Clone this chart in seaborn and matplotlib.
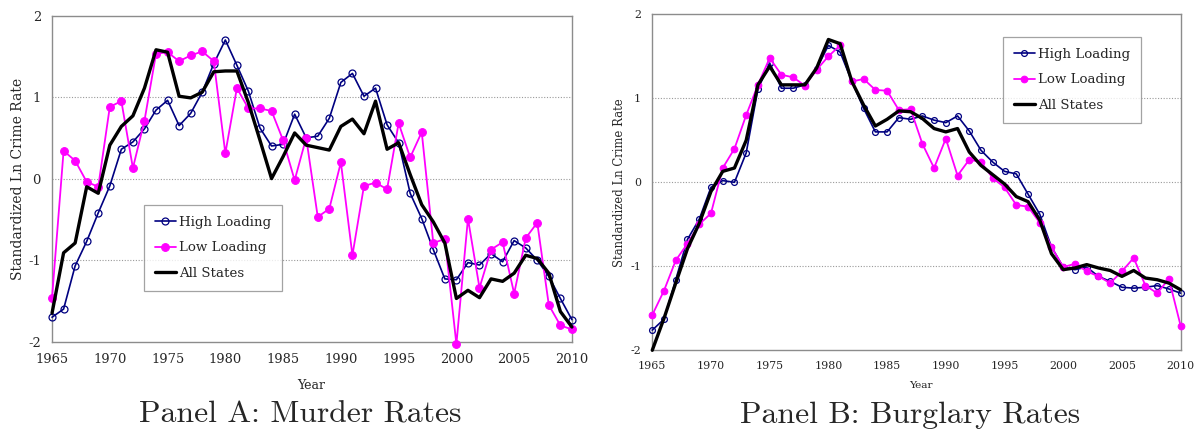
import numpy as np
import pandas as pd
import matplotlib
matplotlib.use("Agg")
import matplotlib.pyplot as plt
import seaborn as sns

years = list(range(1965, 2011))

# Panel A: murder rates
murder_high = [-1.70, -1.60, -1.07, -0.77, -0.42, -0.09, 0.36, 0.45, 0.61, 0.84,
               0.96, 0.65, 0.80, 1.06, 1.41, 1.70, 1.39, 1.07, 0.62, 0.40,
               0.42, 0.79, 0.50, 0.52, 0.74, 1.18, 1.29, 1.01, 1.11, 0.66,
               0.44, -0.18, -0.49, -0.87, -1.23, -1.24, -1.03, -1.06, -0.92, -1.02,
               -0.76, -0.85, -1.00, -1.20, -1.47, -1.73]
murder_low = [-1.46, 0.34, 0.22, -0.04, -0.10, 0.88, 0.95, 0.13, 0.71, 1.53,
              1.55, 1.44, 1.51, 1.56, 1.44, 0.31, 1.11, 0.86, 0.86, 0.83,
              0.47, -0.02, 0.50, -0.47, -0.37, 0.20, -0.94, -0.09, -0.05, -0.13,
              0.68, 0.26, 0.57, -0.79, -0.74, -2.03, -0.49, -1.34, -0.87, -0.78,
              -1.41, -0.73, -0.54, -1.55, -1.80, -1.85]
murder_all = [-1.65, -0.91, -0.79, -0.10, -0.18, 0.41, 0.64, 0.77, 1.11, 1.58,
              1.55, 1.01, 0.99, 1.06, 1.31, 1.32, 1.32, 0.93, 0.47, 0.00,
              0.27, 0.56, 0.41, 0.38, 0.35, 0.64, 0.73, 0.55, 0.95, 0.36,
              0.44, 0.05, -0.32, -0.53, -0.79, -1.47, -1.37, -1.46, -1.23, -1.26,
              -1.16, -0.94, -0.98, -1.16, -1.63, -1.82]

# Panel B: burglary rates
burglary_high = [-1.76, -1.63, -1.16, -0.68, -0.44, -0.06, 0.02, 0.00, 0.35, 1.11,
                 1.42, 1.12, 1.12, 1.16, 1.35, 1.63, 1.55, 1.20, 0.88, 0.60,
                 0.60, 0.77, 0.75, 0.79, 0.74, 0.71, 0.79, 0.61, 0.38, 0.24,
                 0.13, 0.10, -0.14, -0.38, -0.77, -1.01, -1.04, -1.01, -1.12, -1.18,
                 -1.25, -1.26, -1.25, -1.23, -1.27, -1.32]
burglary_low = [-1.58, -1.29, -0.93, -0.73, -0.50, -0.37, 0.17, 0.40, 0.80, 1.16,
                1.48, 1.28, 1.25, 1.15, 1.34, 1.50, 1.63, 1.20, 1.23, 1.10,
                1.09, 0.86, 0.87, 0.46, 0.17, 0.52, 0.08, 0.27, 0.24, 0.05,
                -0.06, -0.27, -0.29, -0.48, -0.77, -1.01, -0.97, -1.06, -1.12, -1.20,
                -1.06, -0.90, -1.23, -1.32, -1.15, -1.71]
burglary_all = [-2.00, -1.62, -1.20, -0.79, -0.49, -0.11, 0.13, 0.17, 0.50, 1.16,
                1.38, 1.16, 1.16, 1.16, 1.36, 1.70, 1.65, 1.20, 0.92, 0.67,
                0.75, 0.85, 0.84, 0.76, 0.64, 0.60, 0.64, 0.36, 0.20, 0.09,
                -0.02, -0.17, -0.23, -0.45, -0.85, -1.04, -1.02, -0.98, -1.02, -1.05,
                -1.12, -1.05, -1.14, -1.16, -1.20, -1.28]

series_labels = ["High Loading", "Low Loading", "All States"]
panel_titles = ["Panel A: Murder Rates", "Panel B: Burglary Rates"]
x_ticks = [1965, 1970, 1975, 1980, 1985, 1990, 1995, 2000, 2005, 2010]
y_ticks = [-2, -1, 0, 1, 2]

sns.set_style("white")
plt.rcParams["font.family"] = ["DejaVu Serif"]
plt.rcParams["axes.unicode_minus"] = False

NAVY = "#000080"
MAGENTA = "#FF00FF"
SPINE = "#8c8c8c"

fig = plt.figure(figsize=(11.99, 4.36), dpi=100)
ax_a = fig.add_axes([0.0434, 0.2163, 0.4336, 0.7481])
ax_b = fig.add_axes([0.5440, 0.1966, 0.4407, 0.7706])


def draw_panel(ax, high, low, allst, scale, legend_anchor, ylabel_x, xlabel_xy):
    df = pd.DataFrame({"Year": years, "high": high, "low": low, "all": allst})
    ms = 5.0 * scale
    sns.lineplot(data=df, x="Year", y="high", ax=ax, color=NAVY, lw=1.2,
                 marker="o", markersize=ms, markerfacecolor="none",
                 markeredgecolor=NAVY, markeredgewidth=0.9,
                 label=series_labels[0], clip_on=False, zorder=3)
    sns.lineplot(data=df, x="Year", y="low", ax=ax, color=MAGENTA, lw=1.3,
                 marker="o", markersize=ms + 0.6, markeredgecolor=MAGENTA,
                 label=series_labels[1], clip_on=False, zorder=4)
    sns.lineplot(data=df, x="Year", y="all", ax=ax, color="black", lw=2.4,
                 label=series_labels[2], clip_on=False, zorder=5)

    ax.set_xlim(1965, 2010)
    ax.set_ylim(-2, 2)
    ax.set_xticks(x_ticks)
    ax.set_yticks(y_ticks)
    ax.set_xticklabels([str(t) for t in x_ticks])
    ax.set_yticklabels([str(t) for t in y_ticks])
    ax.tick_params(axis="both", which="both", direction="out", length=4,
                   width=0.8, color=SPINE, labelsize=9.4 * scale, pad=4)
    for y in (-1, 0, 1):
        ax.axhline(y, color="#9a9a9a", lw=0.8, ls=(0, (1, 1.5)), zorder=1)
    for s in ax.spines.values():
        s.set_color(SPINE)
        s.set_linewidth(1.0)

    ax.set_ylabel("Standardized Ln Crime Rate", fontsize=10.0 * scale)
    ax.yaxis.set_label_coords(ylabel_x, 0.5)
    ax.set_xlabel("Year", fontsize=9.0 * scale)
    ax.xaxis.set_label_coords(*xlabel_xy)

    leg = ax.legend(loc="upper left", bbox_to_anchor=legend_anchor,
                    borderaxespad=0, frameon=True, fancybox=False,
                    fontsize=9.6, handlelength=1.6, handletextpad=0.2,
                    labelspacing=0.95, borderpad=0.8)
    leg.get_frame().set_edgecolor(SPINE)
    leg.get_frame().set_linewidth(0.9)


draw_panel(ax_a, murder_high, murder_low, murder_all, 1.0,
           (0.177, 0.419), -0.052, (0.498, -0.114))
draw_panel(ax_b, burglary_high, burglary_low, burglary_all, 0.84,
           (0.664, 0.932), -0.050, (0.508, -0.090))

fig.text(300 / 1199, 1 - 415 / 436, panel_titles[0], family="cmr10",
         fontsize=22.8, ha="center", va="center")
fig.text(910 / 1199, 1 - 415 / 436, panel_titles[1], family="cmr10",
         fontsize=22.8, ha="center", va="center")

fig.savefig("out.png", dpi=100)
